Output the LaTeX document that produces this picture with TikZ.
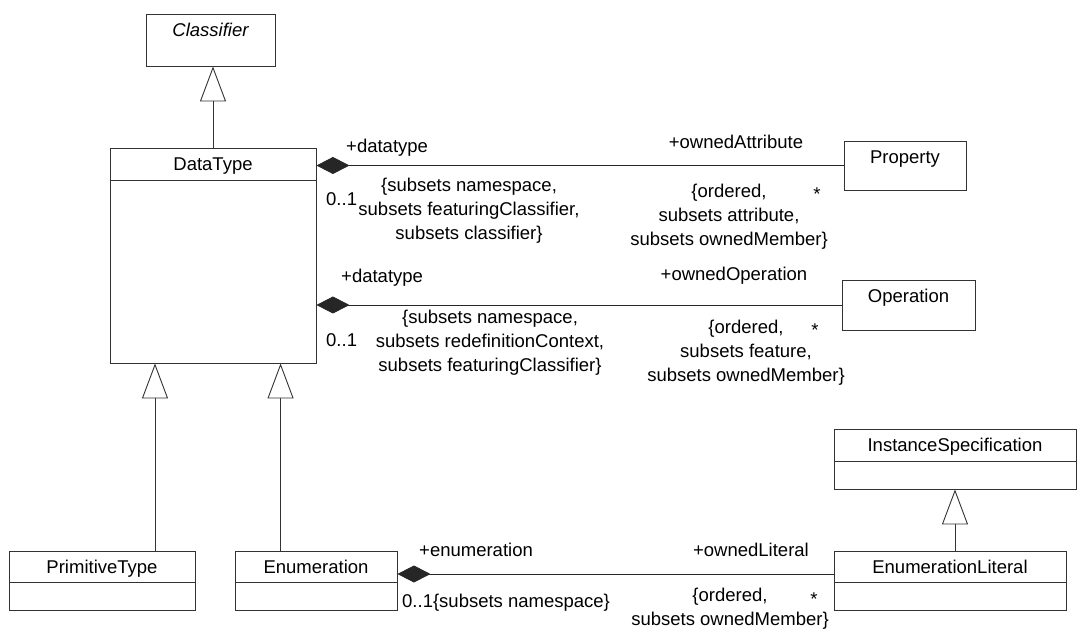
\documentclass[tikz,border=0pt]{standalone}
\usepackage{fontspec}
\setmainfont{Liberation Sans}
\usetikzlibrary{arrows.meta,positioning}

\tikzset{
  umlbox/.style={draw=black!80, line width=0.9pt, inner sep=0pt, rectangle},
  sepline/.style={draw=black!80, line width=0.9pt},
  clsname/.style={anchor=base, inner sep=0pt},
  lbl/.style={inner sep=0pt},
  gen/.style={draw=black!80, line width=0.9pt, -{Triangle[open, length=35pt, width=26pt]}},
  comp/.style={draw=black!85, line width=0.9pt, -{Diamond[length=33pt, width=17pt]}},
}

\begin{document}
\begin{tikzpicture}[x=1pt, y=-1pt, font=\fontsize{18.5}{24}\selectfont]
  \useasboundingbox (0,0) rectangle (1077,631);
  % Classes
  \node[umlbox, minimum width=129pt, minimum height=52pt] (cl) at (210.5,40) {};
  \node[clsname] (clname) at ([yshift=-23pt]cl.north) {\itshape Classifier};

  \node[umlbox, minimum width=206pt, minimum height=215pt] (dt) at (213,255.5) {};
  \node[clsname] (dtname) at ([yshift=-23pt]dt.north) {DataType};
  \draw[sepline] ([yshift=-33pt]dt.north west) -- ([yshift=-33pt]dt.north east);

  \node[umlbox, minimum width=122pt, minimum height=49pt] (prop) at (905,165.5) {};
  \node[clsname] (propname) at ([yshift=-23pt]prop.north) {Property};

  \node[umlbox, minimum width=133pt, minimum height=50pt] (op) at (908.5,305) {};
  \node[clsname] (opname) at ([yshift=-23pt]op.north) {Operation};

  \node[umlbox, minimum width=186pt, minimum height=59pt] (pt) at (102,580.5) {};
  \node[clsname] (ptname) at ([yshift=-23pt]pt.north) {PrimitiveType};
  \draw[sepline] ([yshift=-32pt]pt.north west) -- ([yshift=-32pt]pt.north east);

  \node[umlbox, minimum width=162pt, minimum height=59pt] (en) at (316,580.5) {};
  \node[clsname] (enname) at ([yshift=-23pt]en.north) {Enumeration};
  \draw[sepline] ([yshift=-32pt]en.north west) -- ([yshift=-32pt]en.north east);

  \node[umlbox, minimum width=242pt, minimum height=60pt] (is) at (955,459) {};
  \node[clsname] (isname) at ([yshift=-23pt]is.north) {InstanceSpecification};
  \draw[sepline] ([yshift=-33pt]is.north west) -- ([yshift=-33pt]is.north east);

  \node[umlbox, minimum width=232pt, minimum height=59pt] (el) at (950,580.5) {};
  \node[clsname] (elname) at ([yshift=-23pt]el.north) {EnumerationLiteral};
  \draw[sepline] ([yshift=-32pt]el.north west) -- ([yshift=-32pt]el.north east);

  % Generalizations
  \draw[gen] (dt.north) -- (dt.north |- cl.south);
  \draw[gen] ([xshift=53pt]pt.north) -- ([xshift=53pt]pt.north |- dt.south);
  \draw[gen] ([xshift=46pt]en.north west) -- ([xshift=46pt]en.north west |- dt.south);
  \draw[gen] (el.north -| is.south) -- (is.south);

  % Compositions
  \draw[comp] (prop.west) -- (prop.west -| dt.east);
  \draw[comp] (op.west) -- (op.west -| dt.east);
  \draw[comp] ([yshift=6.5pt]el.west) -- ([yshift=6.5pt]el.west -| en.east);

  % Ends DataType -- Property
  \node[lbl, anchor=west] (dt1role) at (346,148) {+datatype};
  \node[lbl, anchor=west] (dt1mult) at (326,199) {0..1};
  \node[lbl, align=center] (dt1con) at (469,211) {\{subsets namespace,\\subsets featuringClassifier,\\subsets classifier\}};
  \node[lbl] (proprole) at (736,142) {+ownedAttribute};
  \node[lbl, align=center] (propcon) at (729,217) {\{ordered,\\subsets attribute,\\subsets ownedMember\}};
  \node[lbl] (propmult) at (817,194) {*};

  % Ends DataType -- Operation
  \node[lbl, anchor=west] (dt2role) at (341,278) {+datatype};
  \node[lbl, anchor=west] (dt2mult) at (326,340) {0..1};
  \node[lbl, align=center] (dt2con) at (490,343) {\{subsets namespace,\\subsets redefinitionContext,\\subsets featuringClassifier\}};
  \node[lbl] (oprole) at (734,276) {+ownedOperation};
  \node[lbl, align=center] (opcon) at (746,353) {\{ordered,\\subsets feature,\\subsets ownedMember\}};
  \node[lbl] (opmult) at (815,330) {*};

  % Ends Enumeration -- EnumerationLiteral
  \node[lbl, anchor=west] (enrole) at (419,550) {+enumeration};
  \node[lbl, anchor=west] (enmult) at (402,603) {0..1\{subsets namespace\}};
  \node[lbl] (elrole) at (751,550) {+ownedLiteral};
  \node[lbl, align=center] (elcon) at (730,609) {\{ordered,\\subsets ownedMember\}};
  \node[lbl] (elmult) at (814,599) {*};
\end{tikzpicture}
\end{document}
